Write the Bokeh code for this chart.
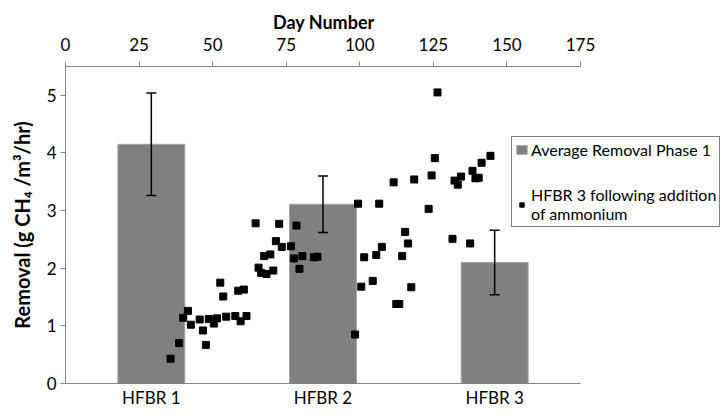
from bokeh.plotting import figure
from bokeh.models import (Range1d, LinearAxis, LinearScale, FixedTicker, ColumnDataSource,
                          Whisker, TeeHead, Legend, LegendItem, Title)
from bokeh.embed import file_html
from bokeh.resources import INLINE

# ---- data ----
reactors = ["HFBR 1", "HFBR 2", "HFBR 3"]
avg_removal = [4.15, 3.11, 2.10]
removal_err = [0.89, 0.49, 0.56]

day_number = [35.7, 38.6, 40.0, 41.6, 42.6, 45.6, 46.7, 47.7, 48.7, 50.4, 51.5, 52.6, 53.6,
              54.6, 57.7, 58.7, 59.5, 60.6, 61.5, 64.6, 65.6, 66.5, 67.5, 68.3, 69.6, 70.6,
              71.5, 72.6, 73.5, 76.6, 77.6, 78.5, 79.5, 80.5, 84.4, 85.6, 98.4, 99.4, 100.5,
              101.5, 104.4, 105.6, 106.6, 107.5, 111.5, 112.4, 113.4, 114.4, 115.4, 116.4,
              117.5, 118.5, 123.4, 124.4, 125.5, 126.4, 131.5, 132.2, 133.3, 134.4, 137.5,
              138.3, 139.3, 140.4, 141.4, 144.4]
hfbr3_removal = [0.43, 0.70, 1.14, 1.26, 1.02, 1.11, 0.92, 0.67, 1.12, 1.04, 1.13, 1.75, 1.51,
                 1.16, 1.17, 1.61, 1.08, 1.63, 1.17, 2.78, 2.01, 1.92, 2.21, 1.90, 2.24, 1.96,
                 2.47, 2.77, 2.37, 2.38, 2.17, 2.74, 1.99, 2.21, 2.19, 2.20, 0.85, 3.12, 1.68,
                 2.19, 1.78, 2.23, 3.12, 2.37, 3.49, 1.38, 1.38, 2.21, 2.63, 2.43,
                 1.67, 3.54, 3.03, 3.61, 3.91, 5.05, 2.51, 3.52, 3.45, 3.59, 2.43,
                 3.69, 3.56, 3.57, 3.83, 3.95]

day_max = 175
day_ticks = [0, 25, 50, 75, 100, 125, 150, 175]
y_ticks = [0, 1, 2, 3, 4, 5]

FONT = "Lato"
TICK_FS = "17px"

# plot area: axes occupy 515 px; frame extends to the page edge so the legend box can overhang
AXIS_PX = 515
FRAME_PX = 658
stretch = FRAME_PX / AXIS_PX
n_cat = len(reactors)
cat_pos = [i + 0.5 for i in range(n_cat)]

p = figure(x_range=Range1d(0, n_cat * stretch), y_range=Range1d(0, 5.5),
           frame_width=FRAME_PX, frame_height=317, title=None,
           output_backend="svg", toolbar_location=None,
           min_border_left=65, min_border_right=0, min_border_top=66, min_border_bottom=28)
p.extra_x_ranges = {"day": Range1d(0, day_max * stretch)}
p.extra_x_scales = {"day": LinearScale()}
p.outline_line_color = None
p.xgrid.grid_line_color = None
p.ygrid.grid_line_color = None
p.background_fill_color = "white"

bar_src = ColumnDataSource(dict(x=cat_pos, val=avg_removal,
                                up=[v + e for v, e in zip(avg_removal, removal_err)],
                                lo=[v - e for v, e in zip(avg_removal, removal_err)]))
bars = p.vbar(x="x", top="val", width=0.39, source=bar_src,
              fill_color="#808080", line_color="#a6a6a6", line_width=1)

wh = Whisker(source=bar_src, base="x", upper="up", lower="lo",
             line_color="black", line_width=1.5, level="overlay",
             upper_head=TeeHead(size=10, line_color="black", line_width=1.5),
             lower_head=TeeHead(size=10, line_color="black", line_width=1.5))
p.add_layout(wh)

pts = p.scatter(day_number, hfbr3_removal, x_range_name="day", marker="square",
                size=7, fill_color="black", line_color="black")

# axes
ax_b = p.xaxis[0]
ax_b.ticker = FixedTicker(ticks=cat_pos)
ax_b.bounds = (0, n_cat)
ax_b.major_label_overrides = {c: r for c, r in zip(cat_pos, reactors)}
ax_b.axis_line_color = "#868686"
ax_b.major_tick_line_color = None
ax_b.major_tick_in = 0
ax_b.major_tick_out = 0
ax_b.minor_tick_line_color = None
ax_b.major_label_text_font = FONT
ax_b.major_label_text_font_size = TICK_FS
ax_b.major_label_text_color = "black"
ax_b.major_label_standoff = 3

ax_l = p.yaxis[0]
ax_l.ticker = FixedTicker(ticks=y_ticks)
ax_l.axis_line_color = "#868686"
ax_l.major_tick_line_color = "#868686"
ax_l.major_tick_in = 0
ax_l.major_tick_out = 5
ax_l.minor_tick_line_color = None
ax_l.major_label_text_font = FONT
ax_l.major_label_text_font_size = TICK_FS
ax_l.major_label_text_color = "black"
ax_l.major_label_standoff = 4
ax_l.axis_label = "Removal (g CH\u2084 /m\u00b3/hr)"
ax_l.axis_label_text_font = FONT
ax_l.axis_label_text_font_size = "20px"
ax_l.axis_label_text_font_style = "bold"
ax_l.axis_label_text_color = "black"
ax_l.axis_label_standoff = 10

ax_t = LinearAxis(x_range_name="day", ticker=FixedTicker(ticks=day_ticks), bounds=(0, day_max))
ax_t.axis_line_color = "#868686"
ax_t.major_tick_line_color = "#868686"
ax_t.major_tick_in = 0
ax_t.major_tick_out = 5
ax_t.minor_tick_line_color = None
ax_t.major_label_text_font = FONT
ax_t.major_label_text_font_size = TICK_FS
ax_t.major_label_text_color = "black"
ax_t.major_label_standoff = 11
p.add_layout(ax_t, "above")

# axis title for the day axis, placed over the middle of the axis span (not the wider frame)
day_title = Title(text="Day Number", align="left", offset=AXIS_PX / 2 - 50,
                  text_font=FONT, text_font_size="18px", text_font_style="bold",
                  text_color="black", standoff=3)
p.add_layout(day_title, "above")

legend = Legend(items=[LegendItem(label="Average Removal Phase 1", renderers=[bars]),
                       LegendItem(label="HFBR 3 following addition\nof ammonium", renderers=[pts])],
                location=(446, 156), orientation="vertical",
                border_line_color="black", border_line_width=1,
                background_fill_color="white", background_fill_alpha=1,
                padding=3, spacing=26, margin=0,
                glyph_width=13, glyph_height=11, label_standoff=3, label_height=16,
                label_text_font=FONT, label_text_font_size="16px", label_text_color="black")
p.add_layout(legend, "center")

open("out.html", "w").write(file_html(p, INLINE))
